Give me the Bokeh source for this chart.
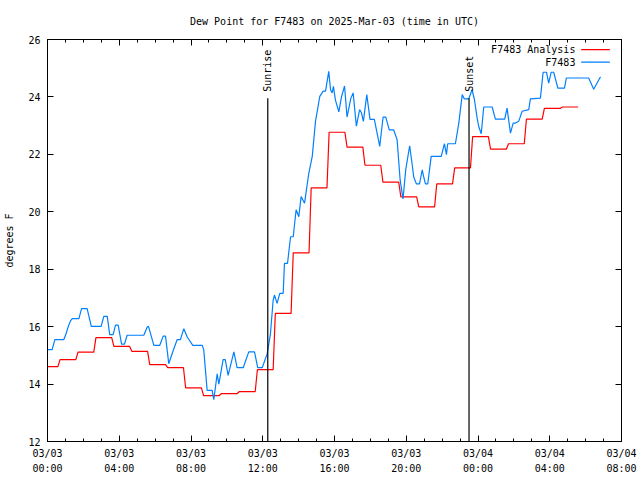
import math
import numpy as np
from bokeh.plotting import figure
from bokeh.models import Range1d, FixedTicker, LinearAxis, Label, Arrow
from bokeh.core.properties import value
from bokeh.embed import file_html
from bokeh.resources import INLINE

FONT = "DejaVu Sans Mono"

title_text = "Dew Point for F7483 on 2025-Mar-03 (time in UTC)"
y_label = "degrees F"

# hours since 2025-03-03 00:00 UTC
x_tick_hours = [0, 4, 8, 12, 16, 20, 24, 28, 32]
x_tick_labels = ["03/03\n00:00", "03/03\n04:00", "03/03\n08:00", "03/03\n12:00",
                 "03/03\n16:00", "03/03\n20:00", "03/04\n00:00", "03/04\n04:00",
                 "03/04\n08:00"]
y_ticks = [12, 14, 16, 18, 20, 22, 24, 26]

# F7483 Analysis: hourly values
analysis_hours = list(range(30))
analysis_values = [14.61, 14.85, 15.11, 15.62, 15.31, 15.14, 14.68, 14.57, 13.87, 13.60,
                   13.67, 13.74, 14.50, 16.46, 18.57, 20.83, 22.77, 22.25, 21.62, 21.03,
                   20.52, 20.17, 20.97, 21.53, 22.62, 22.18, 22.37, 23.23, 23.60, 23.65]

# F7483 observations
obs_hours = [0.00, 0.26, 0.41, 0.91, 1.04, 1.15, 1.28, 1.38, 1.75, 1.90,
             2.21, 2.44, 2.99, 3.14, 3.33, 3.47, 3.66, 3.79, 3.94, 4.13,
             4.29, 4.44, 5.37, 5.56, 5.63, 5.93, 6.26, 6.45, 6.58, 6.76,
             6.97, 7.23, 7.41, 7.60, 7.79, 8.10, 8.62, 8.71, 8.90, 9.18,
             9.27, 9.46, 9.55, 9.64, 9.79, 9.91, 10.07, 10.39, 10.57, 10.91,
             11.22, 11.54, 11.72, 11.97, 12.25, 12.43, 12.58, 12.65, 12.80, 12.95,
             13.14, 13.21, 13.38, 13.55, 13.70, 13.86, 14.01, 14.14, 14.33, 14.57,
             14.76, 14.94, 15.18, 15.37, 15.50, 15.68, 15.78, 15.87, 15.94, 16.05,
             16.24, 16.39, 16.56, 16.70, 16.91, 17.04, 17.22, 17.40, 17.50, 17.61,
             17.80, 17.98, 18.22, 18.42, 18.52, 18.71, 18.86, 19.05, 19.30, 19.49,
             19.66, 19.82, 19.97, 20.19, 20.32, 20.42, 20.57, 20.74, 20.89, 20.98,
             21.07, 21.20, 21.39, 21.95, 22.13, 22.24, 22.31, 22.74, 22.93, 23.12,
             23.24, 23.48, 23.67, 23.80, 23.95, 24.04, 24.18, 24.32, 24.79, 24.97,
             25.49, 25.62, 25.81, 25.96, 26.09, 26.27, 26.46, 26.83, 26.92, 27.48,
             27.63, 27.82, 27.94, 28.08, 28.22, 28.45, 28.82, 28.93, 30.17, 30.45,
             30.83]
obs_values = [15.20, 15.20, 15.55, 15.55, 15.76, 15.99, 16.20, 16.28, 16.28, 16.63,
              16.63, 16.01, 16.01, 16.36, 16.36, 15.72, 15.72, 16.05, 16.05, 15.39,
              15.39, 15.70, 15.70, 15.99, 16.01, 15.35, 15.35, 15.67, 15.67, 14.71,
              15.10, 15.55, 15.55, 15.93, 15.64, 15.35, 15.35, 15.20, 13.78, 13.78,
              13.46, 14.36, 14.00, 14.30, 14.85, 14.85, 14.30, 15.12, 14.57, 14.57,
              15.12, 15.12, 14.57, 14.57, 15.06, 15.76, 16.92, 17.10, 16.81, 17.16,
              17.16, 18.20, 18.20, 19.13, 19.13, 20.07, 19.83, 20.53, 20.30, 21.35,
              21.93, 23.15, 24.02, 24.20, 24.20, 24.89, 24.25, 24.14, 24.37, 23.90,
              23.48, 24.00, 24.38, 23.30, 23.95, 24.14, 22.98, 23.56, 23.45, 23.15,
              24.08, 23.22, 23.22, 22.60, 22.28, 23.30, 23.30, 22.85, 22.85, 22.51,
              21.10, 20.45, 21.46, 22.30, 21.70, 21.20, 20.97, 20.97, 21.46, 21.20,
              20.97, 20.97, 21.93, 21.93, 22.37, 21.99, 22.37, 22.37, 23.09, 24.08,
              23.93, 23.93, 24.25, 23.91, 23.27, 22.97, 22.72, 23.65, 23.65, 23.23,
              23.23, 23.61, 22.74, 23.09, 23.09, 23.15, 23.50, 23.56, 23.93, 23.96,
              24.86, 24.86, 24.48, 24.86, 24.86, 24.31, 24.31, 24.66, 24.66, 24.27,
              24.70]

sun_hours = [12.28, 23.50]
sun_labels = ["Sunrise", "Sunset"]

series_names = ["F7483 Analysis", "F7483"]
series_colors = ["#ff0000", "#0080ff"]

p = figure(width=640, height=480, output_backend="svg", toolbar_location=None,
           x_range=Range1d(0, 32), y_range=Range1d(12, 26),
           min_border_left=47, min_border_right=19, min_border_top=39,
           min_border_bottom=39, title=title_text)
p.background_fill_color = "white"
p.border_fill_color = "white"
p.outline_line_color = "black"
p.outline_line_width = 1
p.xgrid.visible = False
p.ygrid.visible = False

p.title.text_font = FONT
p.title.text_font_size = "10px"
p.title.text_font_style = "normal"
p.title.align = "center"
p.title.text_color = "black"
p.title.standoff = 26

def style_axis(ax, labels=True, minor=True):
    ax.axis_line_color = "black"
    ax.major_tick_line_color = "black"
    ax.minor_tick_line_color = "black" if minor else None
    ax.major_tick_in = 6
    ax.major_tick_out = 0
    ax.minor_tick_in = 3
    ax.minor_tick_out = 0
    ax.major_label_text_font = FONT
    ax.major_label_text_font_size = "10px"
    ax.major_label_text_color = "black"
    if not labels:
        ax.major_label_text_color = None
        ax.major_label_text_font_size = "1px"
        ax.major_label_standoff = 0

xt = FixedTicker(ticks=x_tick_hours, minor_ticks=list(range(0, 33)))
yt = FixedTicker(ticks=y_ticks, minor_ticks=[])
overrides = {h: lab for h, lab in zip(x_tick_hours, x_tick_labels)}

p.xaxis.ticker = xt
p.xaxis.major_label_overrides = overrides
style_axis(p.xaxis[0])
p.xaxis.major_label_standoff = 6
p.xaxis.major_label_text_line_height = 1.45

p.yaxis.ticker = yt
style_axis(p.yaxis[0], minor=False)
p.yaxis.major_label_standoff = 7
p.yaxis.axis_label = y_label
p.yaxis.axis_label_text_font = FONT
p.yaxis.axis_label_text_font_size = "10px"
p.yaxis.axis_label_text_font_style = "normal"
p.yaxis.axis_label_text_color = "black"
p.yaxis.axis_label_standoff = 10

top = LinearAxis(ticker=FixedTicker(ticks=x_tick_hours, minor_ticks=list(range(0, 33))))
style_axis(top, labels=False)
p.add_layout(top, "above")
right = LinearAxis(ticker=FixedTicker(ticks=y_ticks, minor_ticks=[]))
style_axis(right, labels=False, minor=False)
p.add_layout(right, "right")

# analysis: value held through each hour block
ax_x, ax_y = [], []
for h, v in zip(analysis_hours, analysis_values):
    ax_x += [h - 0.3, h + 0.58]
    ax_y += [v, v]
p.line(ax_x, ax_y, line_color=series_colors[0], line_width=1.2)
p.line(obs_hours, obs_values, line_color=series_colors[1], line_width=1.2)

# sunrise / sunset markers
p.segment(x0=sun_hours, y0=[12] * len(sun_hours), x1=sun_hours, y1=[23.95] * len(sun_hours),
          line_color="black", line_width=1.2)
p.text(x=sun_hours, y=[24.18] * len(sun_hours), text=sun_labels, angle=math.pi / 2,
       text_align="left", text_baseline="middle", text_font=value(FONT),
       text_font_size="10px", text_color="black")

# gnuplot-style key (text left of sample)
key_rows_y = [25.65, 25.21]
for name, col, ky in zip(series_names, series_colors, key_rows_y):
    p.add_layout(Label(x=29.43, y=ky, text=name, text_align="right",
                       text_baseline="middle", text_font=FONT, text_font_size="10px",
                       text_color="black"))
    p.add_layout(Arrow(x_start=29.75, y_start=ky, x_end=31.35, y_end=ky, end=None,
                       line_color=col, line_width=1.2))

open("out.html", "w").write(file_html(p, INLINE))
